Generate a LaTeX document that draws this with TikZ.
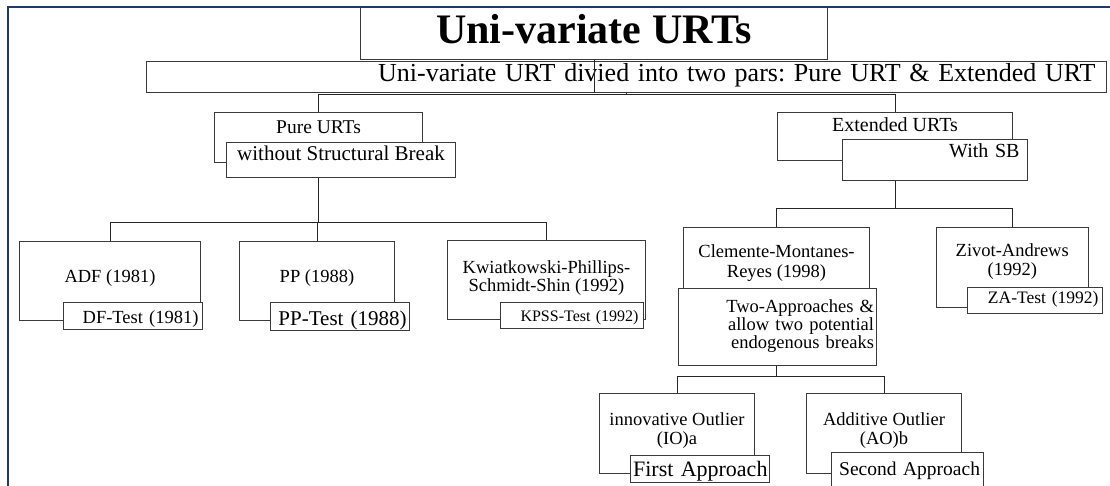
\documentclass[tikz,border=0pt]{standalone}
\usepackage{fontspec}
\setmainfont{Liberation Serif}
\usepackage{tikz}
\definecolor{framenavy}{HTML}{1F3A6E}
\definecolor{edge}{HTML}{3A3A3A}
\AtBeginDocument{\lineskiplimit=-20pt\relax}

\begin{document}
\begin{tikzpicture}[x=1pt, y=-1pt,
    box/.style={draw=edge, fill=white, line width=1pt, inner sep=0pt, anchor=north west, align=center},
    tag/.style={box, align=right},
    link/.style={draw=black!85, line width=1pt},
    txt/.style={font=\fontsize{18.5}{20}\selectfont}
]
    \useasboundingbox (0,0) rectangle (1110,486);

    % Title
    \node[box, minimum width=467pt, text height=36pt, text depth=16pt, font=\fontsize{42}{46}\selectfont\bfseries] (title) at (360,7) {Uni-variate URTs};
    \node[tag, text width=938pt, inner xsep=11pt, text height=20.5pt, text depth=10.5pt, font=\fontsize{26}{30}\selectfont\frenchspacing] (sub) at (146,61) {Uni-variate URT divied into two pars: Pure URT \& Extended URT};

    % Pure URTs
    \node[box, minimum width=208pt, text height=21pt, text depth=29pt, font=\fontsize{19.5}{22}\selectfont] (pure) at (214,112) {Pure URTs};
    \node[box, minimum width=229pt, text height=18pt, text depth=17pt, font=\fontsize{21}{24}\selectfont] (wsb) at (226,142) {without Structural Break};

    % Extended URTs
    \node[box, minimum width=235pt, text height=19pt, text depth=29pt, font=\fontsize{20}{23}\selectfont] (ext) at (777,112) {Extended URTs};
    \node[tag, text width=169pt, inner xsep=8pt, text height=18pt, text depth=23pt, font=\fontsize{20}{23}\selectfont] (sb) at (842,139) {With SB};

    % Tests without break
    \node[box, txt, minimum width=181pt, text height=41pt, text depth=38pt] (adf) at (19,241) {ADF (1981)};
    \node[tag, txt, text width=131pt, inner xsep=4pt, text height=21pt, text depth=6pt] (dft) at (63,302) {DF-Test (1981)};
    \node[box, txt, minimum width=155pt, text height=41pt, text depth=38pt] (pp) at (239,241) {PP (1988)};
    \node[tag, text width=133pt, inner xsep=3pt, text height=23pt, text depth=5pt, font=\fontsize{21}{24}\selectfont] (ppt) at (270,302) {PP-Test (1988)};
    \node[box, minimum width=198pt, text height=51pt, text depth=28pt, font=\fontsize{18.5}{18}\selectfont] (kw) at (447,240) {Kwiatkowski-Phillips-\\Schmidt-Shin (1992)};
    \node[tag, text width=133pt, inner xsep=5pt, text height=19pt, text depth=7pt, font=\fontsize{16}{18}\selectfont] (kpt) at (500,302) {KPSS-Test (1992)};

    % Tests with break
    \node[box, txt, minimum width=186pt, text height=50pt, text depth=11pt] (cmr) at (683,227) {Clemente-Montanes-\\Reyes (1998)};
    \node[tag, text width=193.5pt, inner xsep=2.5pt, text height=24pt, text depth=53pt, font=\fontsize{18.5}{18}\selectfont] (two) at (677.5,288) {Two-Approaches \&\\allow two potential\\endogenous breaks};
    \node[box, minimum width=151.5pt, text height=48pt, text depth=32pt, font=\fontsize{18.5}{18.5}\selectfont] (za) at (936,227) {Zivot-Andrews\\(1992)};
    \node[tag, text width=127pt, inner xsep=4pt, text height=16pt, text depth=10pt, font=\fontsize{17.5}{20}\selectfont] (zat) at (967,287) {ZA-Test (1992)};

    % Outlier approaches
    \node[box, minimum width=155pt, text height=51pt, text depth=29pt, font=\fontsize{18.5}{19}\selectfont] (io) at (599,393) {innovative Outlier\\(IO)a};
    \node[tag, text width=135pt, inner xsep=2pt, text height=21pt, text depth=6pt, font=\fontsize{22}{26}\selectfont] (fa) at (630,455) {First Approach};
    \node[box, minimum width=155pt, text height=51pt, text depth=29pt, font=\fontsize{18.5}{19}\selectfont] (ao) at (806,393) {Additive Outlier\\(AO)b};
    \node[tag, text width=145.5pt, inner xsep=3pt, text height=23pt, text depth=11pt, font=\fontsize{19.5}{22}\selectfont] (sa) at (831,452) {Second Approach};

    % Frame
    \draw[line width=2.5pt, draw=framenavy] (8,486) -- (8,7) -- (1110,7);

    % Connectors
    \draw[link] (title.south) -- (title.south |- sub.south);
    \draw[link] (sub.south) -- ++(0,2) -| (pure.north);
    \draw[link] (sub.south) -- ++(0,2) -| (ext.north);
    \draw[link] (pure.south |- wsb.south) -- ++(0,45) -| (adf.north);
    \draw[link] (pure.south |- wsb.south) -- ++(0,45) -| (pp.north);
    \draw[link] (pure.south |- wsb.south) -- ++(0,45) -| (kw.north);
    \draw[link] (ext.south |- sb.south) -- ++(0,28) -| (cmr.north);
    \draw[link] (ext.south |- sb.south) -- ++(0,28) -| (za.north);
    \draw[link] (cmr.south |- two.south) -- ++(0,10) -| (io.north);
    \draw[link] (cmr.south |- two.south) -- ++(0,10) -| (ao.north);
\end{tikzpicture}
\end{document}
